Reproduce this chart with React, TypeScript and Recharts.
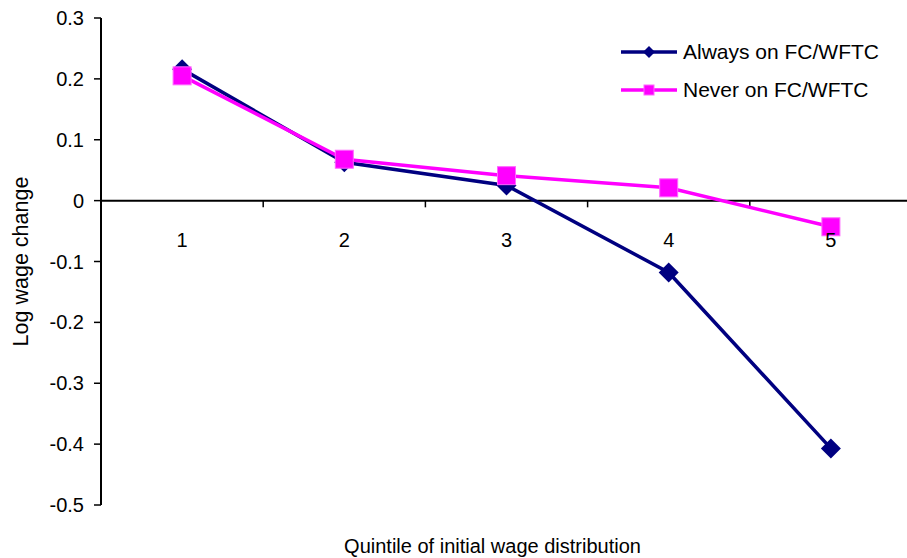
import React from 'react';
import { LineChart, Line, XAxis, YAxis, ReferenceLine, ReferenceDot, Legend } from 'recharts';

const quintiles = [1, 2, 3, 4, 5];
const alwaysOn = [0.216, 0.063, 0.025, -0.118, -0.407];
const neverOn = [0.205, 0.068, 0.041, 0.021, -0.043];
const yTicks = [-0.5, -0.4, -0.3, -0.2, -0.1, 0, 0.1, 0.2, 0.3];
const bandEdges = [1.5, 2.5, 3.5, 4.5, 5.5];

const NAVY = '#000080';
const MAGENTA = '#ff00ff';
const FONT = '"Liberation Sans", Arial, sans-serif';

const data = quintiles.map((q, i) => ({ q, always: alwaysOn[i], never: neverOn[i] }));

const Diamond = ({ cx, cy, size = 10, fill }: any) =>
  cx == null || cy == null ? null : (
    <polygon points={`${cx},${cy - size} ${cx + size},${cy} ${cx},${cy + size} ${cx - size},${cy}`} fill={fill} />
  );

const Square = ({ cx, cy, size = 9, fill }: any) =>
  cx == null || cy == null ? null : (
    <rect x={cx - size} y={cy - size} width={size * 2} height={size * 2} fill={fill} stroke="#ff66ff" strokeWidth={1} />
  );

const legendRows = [
  { name: 'Always on FC/WFTC', color: NAVY, marker: 'diamond' },
  { name: 'Never on FC/WFTC', color: MAGENTA, marker: 'square' },
];

function LegendBox() {
  return (
    <div style={{ fontFamily: FONT, fontSize: 21, color: '#000' }}>
      {legendRows.map((r) => (
        <div key={r.name} style={{ display: 'flex', alignItems: 'center', height: 38 }}>
          <svg width={58} height={20} style={{ marginRight: 5 }}>
            <line x1={1} y1={10} x2={57} y2={10} stroke={r.color} strokeWidth={3.5} />
            {r.marker === 'diamond' ? <Diamond cx={29} cy={10} size={6} fill={r.color} /> : <Square cx={29} cy={10} size={5} fill={r.color} />}
          </svg>
          <span>{r.name}</span>
        </div>
      ))}
    </div>
  );
}

const YTitle = ({ viewBox }: any) => {
  const x = viewBox.x + 21;
  const y = viewBox.y + viewBox.height / 2;
  return (
    <text x={x} y={y} transform={`rotate(-90 ${x} ${y})`} textAnchor="middle" dominantBaseline="central" fontFamily={FONT} fontSize={21.5} fill="#000">
      Log wage change
    </text>
  );
};

export default function App() {
  return (
    <div style={{ position: 'fixed', top: 0, left: 0, width: 907, height: 558, overflow: 'hidden', background: '#fff' }}>
      <LineChart width={925} height={558} data={data} margin={{ top: 18, right: 13, left: 0, bottom: 0 }}>
        <XAxis
          dataKey="q"
          type="number"
          domain={[0.5, 5.5]}
          axisLine={false}
          tickLine={false}
          tick={false}
          height={53}
          label={{ value: 'Quintile of initial wage distribution', position: 'insideBottom', offset: 5, dx: -14, fontFamily: FONT, fontSize: 20, fill: '#000' }}
        />
        <YAxis
          domain={[-0.5, 0.3]}
          ticks={yTicks}
          width={101}
          interval={0}
          axisLine={{ stroke: '#000', strokeWidth: 2 }}
          tickLine={{ stroke: '#000', strokeWidth: 1.5 }}
          tickSize={7}
          tickMargin={10}
          tick={{ fontFamily: FONT, fontSize: 20, fill: '#000' }}
          tickFormatter={(v: number) => String(Math.round(v * 10) / 10)}
          label={<YTitle />}
        />
        <ReferenceLine y={0} stroke="#000" strokeWidth={2} />
        {bandEdges.map((b) => (
          <ReferenceLine key={b} segment={[{ x: b, y: 0 }, { x: b, y: -0.011 }]} stroke="#000" strokeWidth={1.5} ifOverflow="visible" />
        ))}
        {quintiles.map((q) => (
          <ReferenceDot key={q} x={q} y={0} r={0} fill="none" stroke="none"
            label={{ value: String(q), position: 'bottom', offset: 32, fontFamily: FONT, fontSize: 20, fill: '#000' }} />
        ))}
        <Legend layout="vertical" align="center" verticalAlign="middle" content={<LegendBox />}
          wrapperStyle={{ top: 33, left: 620, width: 'auto', height: 'auto' }} />
        <Line dataKey="always" name="Always on FC/WFTC" stroke={NAVY} strokeWidth={3.5} dot={<Diamond fill={NAVY} />} activeDot={false} isAnimationActive={false} />
        <Line dataKey="never" name="Never on FC/WFTC" stroke={MAGENTA} strokeWidth={3.5} dot={<Square fill={MAGENTA} />} activeDot={false} isAnimationActive={false} />
      </LineChart>
    </div>
  );
}
